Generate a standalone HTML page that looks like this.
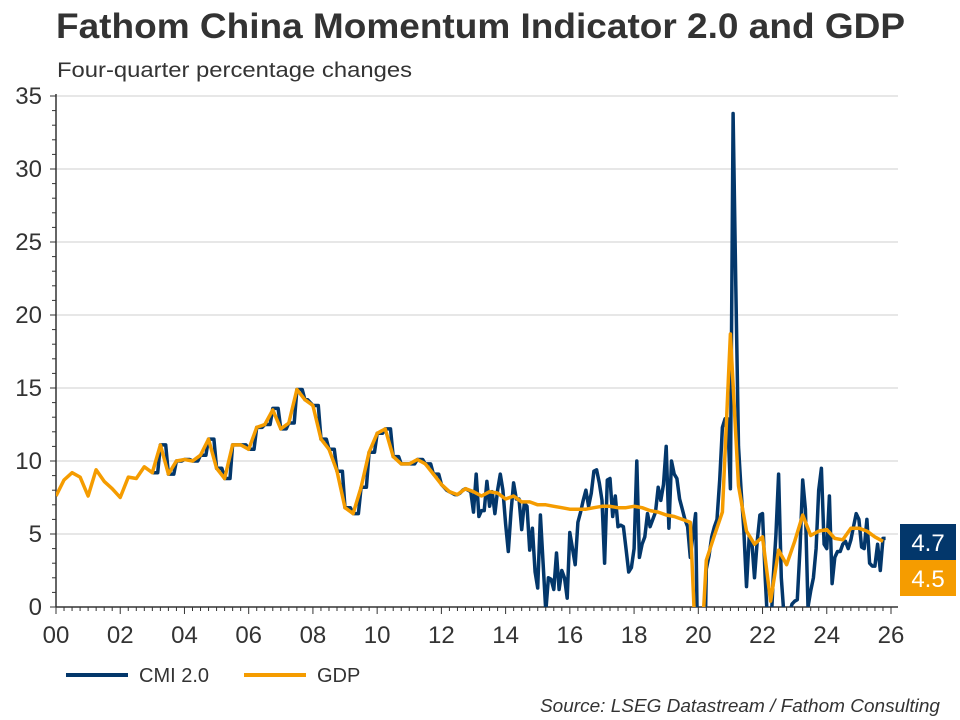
<!DOCTYPE html>
<html><head><meta charset="utf-8"><style>
html,body{margin:0;padding:0;overflow:hidden;width:960px;height:720px;background:#fff;font-family:"Liberation Sans",sans-serif;}
svg{display:block}
</style></head><body>
<svg id="chart" width="960" height="720">
<text x="56" y="38" font-size="35" font-weight="bold" fill="#333" textLength="849" lengthAdjust="spacingAndGlyphs">Fathom China Momentum Indicator 2.0 and GDP</text>
<text x="57" y="77" font-size="21" fill="#333" textLength="355" lengthAdjust="spacingAndGlyphs">Four-quarter percentage changes</text>
<defs><clipPath id="clip"><rect x="56" y="94" width="842" height="513"/></clipPath></defs>
<g id="grid"></g>
<g id="axes"></g>
<g id="series" clip-path="url(#clip)"></g>
<g id="labels"></g>
<g>
<line x1="66" y1="675" x2="128" y2="675" stroke="#03376b" stroke-width="4"/>
<text x="139" y="682" font-size="20" fill="#333">CMI 2.0</text>
<line x1="244" y1="675" x2="306" y2="675" stroke="#f59c00" stroke-width="4"/>
<text x="317" y="682" font-size="20" fill="#333">GDP</text>
</g>
<text x="940" y="712" font-size="18" font-style="italic" fill="#333" text-anchor="end" textLength="400" lengthAdjust="spacingAndGlyphs">Source: LSEG Datastream / Fathom Consulting</text>
</svg>
<script>
const yTicks=[0,5,10,15,20,25,30,35];
const xTickLabels=["00","02","04","06","08","10","12","14","16","18","20","22","24","26"];
const gdpStart=2000;
const gdp=[7.6,8.7,9.2,8.9, 7.6,9.4,8.6,8.1, 7.5,8.9,8.8,9.6, 9.2,11.1,9.1,10.0, 10.1,10.0,10.4,11.5, 9.5,8.8,11.1,11.1, 10.8,12.3,12.5,13.5, 12.2,12.6,14.9,14.2, 13.8,11.5,10.8,9.3, 6.8,6.4,8.2,10.6, 11.9,12.2,10.3,9.8, 9.8,10.1,9.8,9.1, 8.4,7.9,7.7,8.1, 7.9,7.6,7.9,7.8, 7.4,7.6,7.2,7.2, 7.0,7.0,6.9,6.8, 6.7,6.7,6.7,6.8, 6.9,6.9,6.8,6.8, 6.9,6.8,6.6,6.5, 6.3,6.2,6.0,5.8, -6.8,3.2,4.9,6.5, 18.7,8.3,5.2,4.3, 4.8,0.4,3.9,2.9, 4.5,6.3,4.9,5.2, 5.3,4.7,4.6,5.4, 5.4,5.2,4.8,4.5];
const cmiStart=2003;
const cmi=[9.2,9.2,9.2,11.1,11.1,11.1,9.1,9.1,9.1,10.0,10.0,10.0,
10.1,10.1,10.1,10.0,10.0,10.0,10.4,10.4,10.4,11.5,11.5,11.5,
9.5,9.5,9.5,8.8,8.8,8.8,11.1,11.1,11.1,11.1,11.1,11.1,
10.8,10.8,10.8,12.3,12.3,12.3,12.5,12.5,12.5,13.6,13.6,13.6,
12.2,12.2,12.2,12.6,12.6,12.6,14.9,14.9,14.9,14.2,14.2,14.0,
13.8,13.8,13.8,11.5,11.5,11.5,10.8,10.8,10.8,9.3,9.3,9.3,
6.8,6.8,6.8,6.4,6.4,6.4,8.2,8.2,8.2,10.6,10.6,10.6,
11.9,11.9,11.9,12.2,12.2,12.2,10.3,10.3,10.3,9.8,9.8,9.8,
9.8,9.8,9.8,10.1,10.1,10.1,9.8,9.8,9.8,9.1,9.1,9.1,
8.4,8.2,8.0,7.9,7.8,7.7,7.7,7.8,8.0,8.1,8.0,7.9,
6.5,9.1,6.2,6.6,6.6,8.6,6.9,7.9,6.4,8.0,9.1,8.0,
5.7,3.8,6.5,8.5,7.4,7.4,5.3,7.1,6.9,3.9,5.4,2.4,
1.3,6.3,3.0,-0.3,2.0,1.9,1.2,3.7,1.2,2.5,2.0,0.6,
5.1,4.0,2.9,5.8,6.5,7.3,8.0,6.9,7.8,9.3,9.4,8.5,
7.3,3.0,8.7,8.8,6.2,7.6,5.5,5.6,5.5,4.0,2.4,2.7,
4.0,10.0,3.4,4.3,4.8,6.4,5.5,6.0,6.5,8.2,7.3,8.4,
11.0,5.4,10.0,9.1,8.8,7.4,6.7,6.0,5.5,3.4,5.0,6.4,
-6,-15,-8,2.6,3.5,4.8,5.5,6.0,8.7,12.3,12.9,12.9,
8.1,33.8,22,11.0,8.0,5.3,1.4,4.8,4.5,2.0,4.5,6.3,
6.4,2.0,-1.5,-2.0,2.0,4.9,9.1,2.0,-0.5,-1.0,-0.5,0.2,
0.4,0.5,4.0,8.7,6.7,0.0,1.1,2.0,4.0,8.0,9.5,4.3,
4.0,7.6,1.6,3.4,3.8,3.8,4.3,4.5,4.0,4.6,5.5,6.4,
6.0,4.1,4.0,6.0,3.0,2.8,2.8,4.3,2.5,4.7,4.7];
const lastLabels=["4.7","4.5"];

const NS="http://www.w3.org/2000/svg";
const X0=56,X1=898,Y0=607,Y1=96;
const xs=yr=>X0+(yr-2000)*(891-56)/26;
const ys=v=>Y0-v*(Y0-Y1)/35;
function mk(tag,attrs,parent){const e=document.createElementNS(NS,tag);for(const k in attrs)e.setAttribute(k,attrs[k]);document.getElementById(parent).appendChild(e);return e;}
yTicks.forEach(t=>{
  if(t>0){const g=mk('line',{x1:X0,x2:X1,y1:ys(t),y2:ys(t),stroke:'#cfcfcf','stroke-width':1},'grid');
  
  }
  const l=mk('text',{x:42,y:ys(t)+8,'font-size':24,fill:'#333','text-anchor':'end'},'labels');
  l.textContent=t;
  
  
});
for(let v=0;v<=35;v++){const t=mk('line',{x1:X0-(v%5?4:6),x2:X0,y1:ys(v),y2:ys(v),stroke:'#333','stroke-width':1},'axes');

}
const ya=mk('line',{x1:X0,x2:X0,y1:Y1-2,y2:Y0,stroke:'#333','stroke-width':1.5},'axes');


const xa=mk('line',{x1:X0,x2:X1,y1:Y0,y2:Y0,stroke:'#333','stroke-width':1.5},'axes');


for(let q=0;q<=104;q++){const yr=2000+q/4;const t=mk('line',{x1:xs(yr),x2:xs(yr),y1:Y0,y2:Y0+(q%8?4:7),stroke:'#333','stroke-width':1},'axes');

}
xTickLabels.forEach((s,i)=>{const l=mk('text',{x:xs(2000+2*i),y:643,'font-size':24,fill:'#333','text-anchor':'middle'},'labels');
l.textContent=s;

});
const cp=cmi.map((v,i)=>xs(cmiStart+i/12).toFixed(1)+','+ys(v).toFixed(1)).join(' ');
const c=mk('polyline',{points:cp,fill:'none',stroke:'#03376b','stroke-width':3.5,'stroke-linejoin':'round'},'series');


const gp=gdp.map((v,i)=>xs(gdpStart+i/4).toFixed(1)+','+ys(v).toFixed(1)).join(' ');
const g=mk('polyline',{points:gp,fill:'none',stroke:'#f59c00','stroke-width':3.5,'stroke-linejoin':'round'},'series');


const cols=['#03376b','#f59c00'];
lastLabels.forEach((s,i)=>{const r=mk('rect',{x:900,y:524+36*i,width:56,height:36,fill:cols[i]},'labels');


const t=mk('text',{x:928,y:551+36*i,'font-size':24,fill:'#fff','text-anchor':'middle'},'labels');
t.textContent=s;

});
</script>
</body></html>
